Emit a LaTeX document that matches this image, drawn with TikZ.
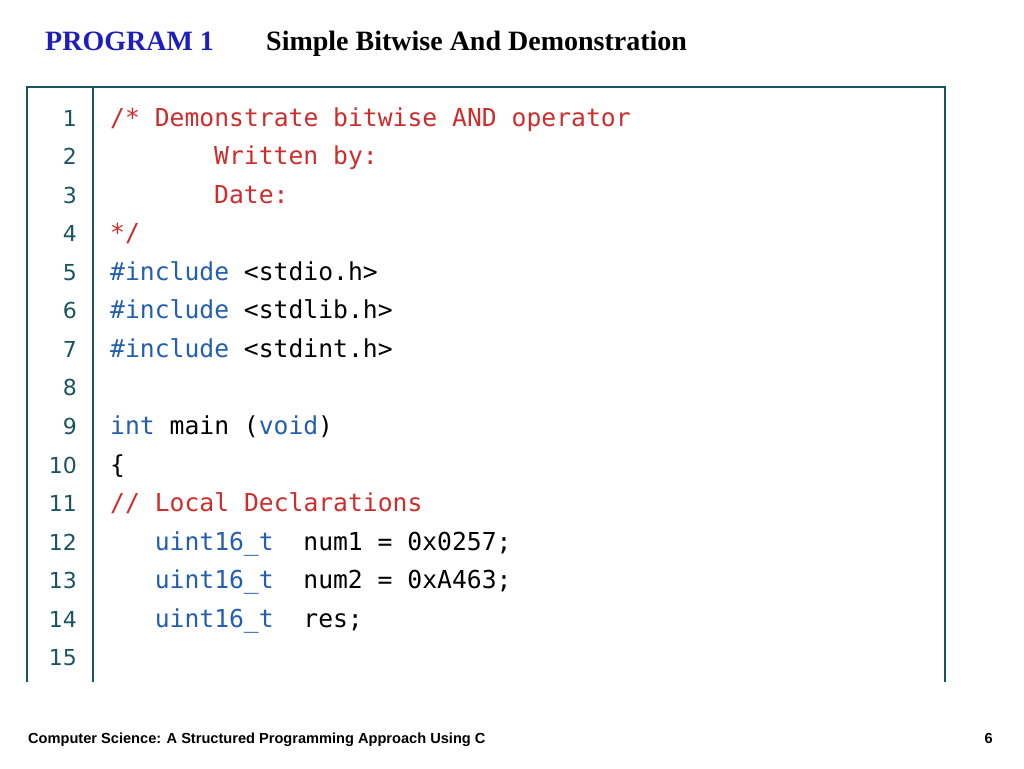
\documentclass[tikz,border=0pt]{standalone}
\usepackage{fontspec}
\setmainfont{Liberation Serif}
\newfontfamily\codef{DejaVu Sans Mono}
\newfontfamily\numf{DejaVu Sans}
\newfontfamily\footf{Liberation Sans}
\definecolor{cred}{RGB}{205,45,45}
\definecolor{cblue}{RGB}{35,95,175}
\definecolor{cteal}{RGB}{25,85,95}
\definecolor{tblue}{RGB}{30,30,190}
\begin{document}
\begin{tikzpicture}[x=1pt,y=-1pt,
  code/.style={anchor=base west,inner sep=0pt,font=\codef\fontsize{24.7}{26}\selectfont},
  lnum/.style={anchor=base east,inner sep=0pt,text=cteal,font=\numf\fontsize{22}{24}\selectfont}]
\useasboundingbox (0,0) rectangle (1024,768);
\node[anchor=base west,inner sep=0pt,text=tblue,font=\bfseries\fontsize{28}{30}\selectfont] (t1) at (45,50) {PROGRAM 1};
\node[anchor=base west,inner sep=0pt,font=\bfseries\fontsize{28}{30}\selectfont] (t2) at (266,50) {Simple Bitwise And Demonstration};
\draw[cteal,line width=1.5pt] (27,682) -- (27,87) -- (945,87) -- (945,682);
\draw[cteal,line width=1.5pt] (93,87) -- (93,682);
\foreach \i in {1,...,15} {
  \node[lnum] (n\i) at (77,{126+(\i-1)*38.57}) {\i};
}
\def\cw{14.86}
\newcommand\cl[4]{\node[code,text=#4] at ({110+#2*\cw},{126+(#1-1)*38.57}) {#3};}
\cl{1}{0}{/* Demonstrate bitwise AND operator}{cred}
\cl{2}{7}{Written by:}{cred}
\cl{3}{7}{Date:}{cred}
\cl{4}{0}{*/}{cred}
\cl{5}{0}{\#include}{cblue}\cl{5}{9}{<stdio.h>}{black}
\cl{6}{0}{\#include}{cblue}\cl{6}{9}{<stdlib.h>}{black}
\cl{7}{0}{\#include}{cblue}\cl{7}{9}{<stdint.h>}{black}
\cl{9}{0}{int}{cblue}\cl{9}{4}{main (}{black}\cl{9}{10}{void}{cblue}\cl{9}{14}{)}{black}
\cl{10}{0}{\{}{black}
\cl{11}{0}{// Local Declarations}{cred}
\cl{12}{3}{uint16\_t}{cblue}\cl{12}{13}{num1 = 0x0257;}{black}
\cl{13}{3}{uint16\_t}{cblue}\cl{13}{13}{num2 = 0xA463;}{black}
\cl{14}{3}{uint16\_t}{cblue}\cl{14}{13}{res;}{black}
\node[anchor=base west,inner sep=0pt,font=\footf\bfseries\fontsize{14.6}{16}\selectfont] (f1) at (28,743) {Computer Science: A Structured Programming Approach Using C};
\node[anchor=base east,inner sep=0pt,font=\footf\bfseries\fontsize{14.6}{16}\selectfont] (f2) at (993,743) {6};
\end{tikzpicture}
\end{document}
